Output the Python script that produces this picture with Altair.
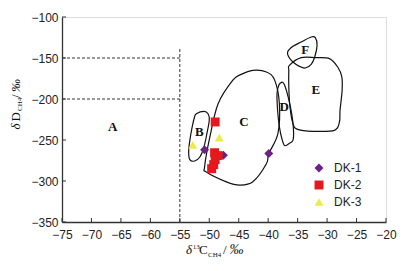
import altair as alt
import pandas as pd

# ---------------- data ----------------
series = ["DK-1", "DK-2", "DK-3"]
colors = ["#6B2383", "#E3191E", "#EEEA4A"]
shapes = ["diamond", "square", "triangle-up"]

dk1_x = [-50.8, -47.6, -39.9]
dk1_y = [-262.0, -268.5, -266.5]
dk2_x = [-49.0, -49.1, -48.5, -49.0, -49.25, -49.6]
dk2_y = [-228.0, -265.5, -269.0, -274.0, -280.0, -285.0]
dk3_x = [-52.8, -48.3]
dk3_y = [-256.0, -247.0]

# region outlines (closed curves)
B_x = [-52.2, -50.9, -50.2, -50.0, -50.4, -50.9, -51.6, -52.5, -53.3, -53.5, -53.3, -52.9, -52.5]
B_y = [-217.9, -215.0, -218.0, -226.0, -242.0, -258.5, -270.7, -275.6, -274.0, -264.6, -250.4, -234.0, -222.0]
C_x = [-42.6, -40.3, -38.9, -38.1, -38.35, -39.9, -40.3, -42.6, -44.85, -47.1, -50.5, -50.8, -49.9, -48.5, -46.0, -44.6]
C_y = [-165.0, -167.0, -177.0, -205.7, -242.3, -266.7, -279.0, -301.0, -305.0, -301.0, -289.0, -283.0, -246.3, -205.7, -177.0, -170.0]
D_x = [-37.6, -38.2, -38.5, -38.4, -38.1, -37.6, -37.2, -36.5, -35.8, -35.7, -36.0, -36.6, -37.2]
D_y = [-179.3, -183.3, -193.5, -213.8, -234.0, -250.4, -256.9, -254.5, -250.4, -238.0, -218.0, -197.6, -183.3]
E_x = [-36.4, -34.4, -31.9, -29.6, -28.2, -27.5, -27.45, -27.8, -27.9, -28.75, -32.4, -35.0, -35.8, -36.3, -36.5, -36.5]
E_y = [-159.0, -149.6, -149.6, -150.8, -161.0, -173.0, -189.4, -213.8, -228.0, -238.2, -239.4, -237.0, -230.0, -209.8, -185.4, -165.0]
F_x = [-36.7, -35.8, -34.4, -32.7, -32.0, -31.7, -32.1, -32.7, -33.7, -34.7, -35.8, -36.5]
F_y = [-142.7, -135.8, -130.5, -124.4, -125.2, -134.6, -148.8, -157.7, -162.2, -160.2, -154.9, -148.8]

label_text = ["A", "B", "C", "D", "E", "F"]
label_x = [-66.4, -51.7, -44.1, -37.3, -31.9, -33.7]
label_y = [-234.0, -240.5, -228.5, -210.0, -189.5, -140.0]

# dashed boundary segments
seg_x = [-55.0, -75.0, -75.0]
seg_x2 = [-55.0, -55.0, -55.0]
seg_y = [-350.0, -150.0, -200.0]
seg_y2 = [-138.0, -150.0, -200.0]

x_ticks = list(range(-75, -19, 5))
y_ticks = list(range(-350, -99, 50))

# ---------------- tables ----------------
pts = pd.DataFrame({
    "x": dk1_x + dk2_x + dk3_x,
    "y": dk1_y + dk2_y + dk3_y,
    "s": ["DK-1"] * len(dk1_x) + ["DK-2"] * len(dk2_x) + ["DK-3"] * len(dk3_x),
})

rows = []
for name, xs, ys in [("B", B_x, B_y), ("C", C_x, C_y), ("D", D_x, D_y), ("E", E_x, E_y), ("F", F_x, F_y)]:
    for i, (a, b) in enumerate(zip(xs, ys)):
        rows.append({"region": name, "i": i, "x": a, "y": b})
poly = pd.DataFrame(rows)

labels = pd.DataFrame({"t": label_text, "x": label_x, "y": label_y})
segs = pd.DataFrame({"x": seg_x, "x2": seg_x2, "y": seg_y, "y2": seg_y2})
xt = pd.DataFrame({"x": x_ticks})
yt = pd.DataFrame({"y": y_ticks})

W, H = 324, 205
xs_ = alt.Scale(domain=[-75, -20], nice=False, zero=False)
ys_ = alt.Scale(domain=[-350, -100], nice=False, zero=False)

axis_common = dict(ticks=False, grid=False, title=None, labelFont="Liberation Sans",
                   labelFontSize=12, labelColor="#222", domainColor="#333", domainWidth=1.3,
                   labelOverlap=False, labelFlush=False)
xaxis = alt.Axis(values=x_ticks, labelPadding=7, **axis_common)
yaxis = alt.Axis(values=y_ticks, labelPadding=4, **axis_common)
X = alt.X("x:Q", scale=xs_, axis=xaxis)
Y = alt.Y("y:Q", scale=ys_, axis=yaxis)

outlines = alt.Chart(poly).mark_line(interpolate="cardinal-closed", color="#111", strokeWidth=1.2).encode(
    x=X, y=Y, detail="region:N", order="i:Q")

dashed = alt.Chart(segs).mark_rule(color="#333", strokeDash=[3, 2], strokeWidth=1).encode(
    x=X, x2="x2:Q", y=Y, y2="y2:Q")

xtick = alt.Chart(xt).mark_rule(color="#333", strokeWidth=1).encode(
    x=X, y=alt.value(H), y2=alt.value(H - 4))
ytick = alt.Chart(yt).mark_rule(color="#333", strokeWidth=1).encode(
    y=Y, x=alt.value(0), x2=alt.value(4))

region_text = alt.Chart(labels).mark_text(font="Liberation Serif", fontSize=13, fontWeight="bold",
                                          color="#111").encode(x=X, y=Y, text="t:N")

points = alt.Chart(pts).mark_point(filled=True, opacity=1, size=80).encode(
    x=X, y=Y,
    color=alt.Color("s:N", scale=alt.Scale(domain=series, range=colors),
                    legend=alt.Legend(title=None, orient="none", legendX=251, legendY=145,
                                      labelFont="Liberation Sans", labelFontSize=12, labelColor="#222",
                                      symbolSize=80, rowPadding=5, labelOffset=9, padding=0,
                                      symbolStrokeWidth=0)),
    shape=alt.Shape("s:N", scale=alt.Scale(domain=series, range=shapes)),
)

def txt(t, x, y, size, angle=0, style="normal"):
    return alt.Chart(pd.DataFrame({"a": [0]})).mark_text(
        text=t, font="Liberation Serif", fontSize=size, align="left", baseline="alphabetic",
        angle=angle, color="#111", fontStyle=style).encode(x=alt.value(x), y=alt.value(y))

TB = 237.0
xtitle = [
    txt("δ", 124.0, TB, 13, style="italic"),
    txt("13", 130.8, TB - 5.5, 7),
    txt("C", 137.0, TB, 13),
    txt("CH4", 146.0, TB + 2.5, 7),
    txt("/", 161.0, TB, 13),
    txt("‰", 167.5, TB, 14, style="italic"),
]
ytitle = [
    txt("δ", -42.0, 112.6, 13, angle=270, style="italic"),
    txt("D", -42.0, 104.5, 13, angle=270),
    txt("CH4", -39.7, 94.0, 7, angle=270),
    txt("/", -42.0, 81.0, 13, angle=270),
    txt("‰", -42.0, 75.0, 13, angle=270, style="italic"),
]

chart = alt.layer(outlines, dashed, xtick, ytick, region_text, points, *xtitle, *ytitle).properties(
    width=W, height=H, autosize=alt.AutoSizeParams(type="none"),
    padding={"left": 54, "top": 9, "right": 18, "bottom": 40}
).resolve_scale(color="shared", shape="shared").configure_view(stroke="#222", strokeWidth=1).configure(
    background="white")

chart.save("out.html", embed_options={"renderer": "svg", "actions": False})
